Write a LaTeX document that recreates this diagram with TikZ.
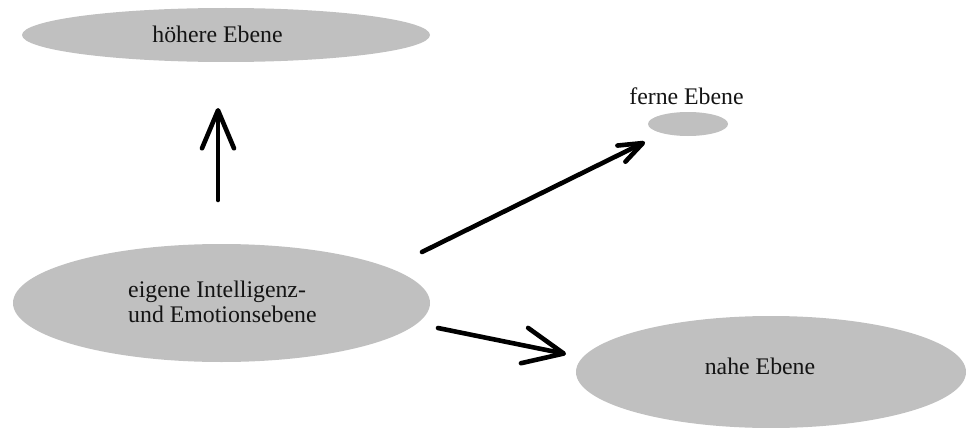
\documentclass[tikz,border=0pt]{standalone}
\usepackage{fontspec}
\setmainfont{Liberation Serif}
\usetikzlibrary{shapes.geometric,arrows.meta}

\definecolor{levelgray}{RGB}{192,192,192}
\definecolor{textdark}{RGB}{20,20,20}

\tikzset{
  level/.style={ellipse, fill=levelgray, draw=none, inner sep=0pt},
  caption/.style={text=textdark, font=\fontsize{23.8}{24.5}\selectfont, inner sep=0pt},
  pointer/.style={line width=4.6pt, line cap=round, line join=round, black},
}

\begin{document}
\begin{tikzpicture}[x=1pt, y=-1pt]
  \useasboundingbox (0,0) rectangle (966,428);

  % levels
  \node[level, minimum width=408pt, minimum height=54pt] (higher) at (226,35) {};
  \node[caption, anchor=base] (higherlabel) at (217.5,43) {höhere Ebene};

  \node[level, minimum width=417pt, minimum height=118pt] (own) at (221.5,303) {};
  % the base anchor of a two-line node sits on its last line
  \node[caption, align=left, anchor=base west] (ownlabel) at (128,322)
    {eigene Intelligenz-\\und Emotionsebene};

  \node[level, minimum width=80pt, minimum height=24pt] (far) at (688,124) {};
  \node[caption, anchor=base] (farlabel) at (686.5,104) {ferne Ebene};

  \node[level, minimum width=390pt, minimum height=112pt] (near) at (771,372) {};
  \node[caption, anchor=base] (nearlabel) at (760,374) {nahe Ebene};

  % arrow end points
  \coordinate (upS) at (218,200);
  \coordinate (upT) at (218,108);
  \coordinate (farS) at (422,252);
  \coordinate (farT) at (645,142);
  \coordinate (nearS) at (438,328);
  \coordinate (nearT) at (566,354);

  % arrows
  \draw[pointer, -{Straight Barb[length=38pt, width=32pt, round]}] (upS) -- (upT);
  \draw[pointer, -{Straight Barb[length=24pt, width=18pt, round]}] (farS) -- (farT);
  \draw[pointer, -{Straight Barb[length=40pt, width=36pt, round]}] (nearS) -- (nearT);
\end{tikzpicture}
\end{document}
